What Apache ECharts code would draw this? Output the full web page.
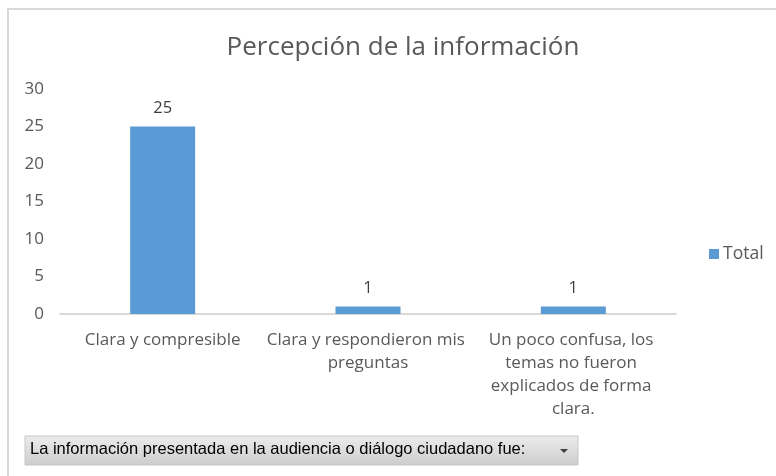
<!DOCTYPE html>
<html>
<head>
<meta charset="utf-8">
<script src="https://cdn.jsdelivr.net/npm/echarts@6/dist/echarts.min.js"></script>
<style>
html,body{margin:0;padding:0;background:#fff;}
#chart{width:776px;height:476px;}
</style>
</head>
<body>
<div id="chart"></div>
<script>
const titleText = 'Percepción de la información';
const categories = ['Clara y compresible', 'Clara y respondieron mis preguntas', 'Un poco confusa, los temas no fueron explicados de forma clara.'];
const seriesName = 'Total';
const totals = [25, 1, 1];
const yTicks = [0, 5, 10, 15, 20, 25, 30];
const fieldButtonText = 'La información presentada en la audiencia o diálogo ciudadano fue:';

const FONT = 'Open Sans';
const chart = echarts.init(document.getElementById('chart'), null, {renderer: 'canvas'});
chart.setOption({
  animation: false,
  backgroundColor: '#ffffff',
  title: {
    text: titleText,
    left: 398, top: 30, textAlign: 'center',
    textStyle: {fontFamily: FONT, fontSize: 26, fontWeight: 'normal', color: '#595959'}
  },
  legend: {
    data: [seriesName],
    left: 704, top: 240,
    itemWidth: 10, itemHeight: 10, itemGap: 4,
    icon: 'rect',
    textStyle: {fontFamily: FONT, fontSize: 17.5, color: '#595959', padding: [0,0,0,-1]}
  },
  grid: {left: 60, right: 100, top: 89, bottom: 162, containLabel: false},
  xAxis: {
    type: 'category',
    data: categories,
    axisLine: {show: true, lineStyle: {color: '#d9d9d9', width: 2}},
    axisTick: {show: false},
    axisLabel: {
      interval: 0, margin: 15, width: 206, overflow: 'break',
      fontFamily: FONT, fontSize: 17, lineHeight: 23, color: '#595959'
    }
  },
  yAxis: {
    type: 'value',
    min: yTicks[0], max: yTicks[yTicks.length - 1], interval: yTicks[1] - yTicks[0],
    axisLine: {show: false},
    axisTick: {show: false},
    splitLine: {show: false},
    axisLabel: {margin: 16, fontFamily: FONT, fontSize: 17, color: '#595959'}
  },
  series: [{
    name: seriesName,
    type: 'bar',
    data: totals,
    barWidth: 65,
    itemStyle: {color: '#5b9bd5'},
    label: {show: true, position: 'top', distance: 10, fontFamily: FONT, fontSize: 16.5, color: '#404040'}
  }],
  graphic: [
    {type: 'polyline', shape: {points: [[8, 476], [8, 9], [776, 9]]}, style: {stroke: '#d9d9d9', lineWidth: 2, fill: null}, silent: true},
    {type: 'rect', shape: {x: 25, y: 436, width: 553, height: 29},
     style: {fill: new echarts.graphic.LinearGradient(0, 0, 0, 1, [{offset: 0, color: '#ececec'}, {offset: 1, color: '#cdcdcd'}]), stroke: '#c8c8c8', lineWidth: 1}},
    {type: 'text', left: 30, top: 441, style: {text: fieldButtonText, fontFamily: 'Liberation Sans', fontSize: 16.5, fill: '#000000'}},
    {type: 'polygon', shape: {points: [[560, 449], [568, 449], [564, 453]]}, style: {fill: '#404040'}}
  ]
});
</script>
</body>
</html>
